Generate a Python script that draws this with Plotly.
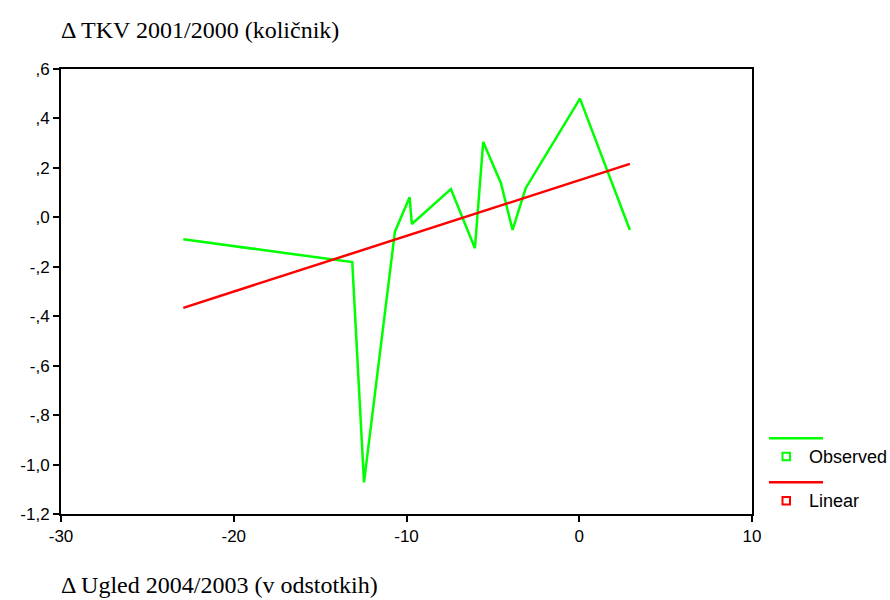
import plotly.graph_objects as go

# Observed data (Δ Ugled 2004/2003 vs Δ TKV 2001/2000)
obs_x = [-22.92, -13.14, -12.46, -10.67, -9.82, -9.69, -7.43, -6.04, -5.56, -4.53, -3.86, -3.10, 0.04, 2.93]
obs_y = [-0.089, -0.181, -1.072, -0.058, 0.081, -0.027, 0.114, -0.125, 0.305, 0.138, -0.051, 0.118, 0.480, -0.051]
# Linear fit values at the observed x
lin_y = [-0.366, -0.146, -0.130, -0.090, -0.071, -0.068, -0.017, 0.014, 0.025, 0.048, 0.063, 0.080, 0.151, 0.216]

x_ticks = [-30, -20, -10, 0, 10]
x_ticktext = ["-30", "-20", "-10", "0", "10"]
y_ticks = [0.6, 0.4, 0.2, 0.0, -0.2, -0.4, -0.6, -0.8, -1.0, -1.2]
y_ticktext = [",6", ",4", ",2", ",0", "-,2", "-,4", "-,6", "-,8", "-1,0", "-1,2"]

GREEN = "#00ff00"
RED = "#ff0000"

W, H = 890, 600
L, R, T, B = 61, 752, 69, 514

fig = go.Figure()
fig.add_trace(go.Scatter(x=obs_x, y=obs_y, mode="lines", line=dict(color=GREEN, width=2.5),
                         showlegend=False, hoverinfo="skip"))
fig.add_trace(go.Scatter(x=obs_x, y=lin_y, mode="lines", line=dict(color=RED, width=2.5),
                         showlegend=False, hoverinfo="skip"))

def px(x):
    return (x - L) / (R - L)

def py(y):
    return (B - y) / (B - T)

shapes = []
annotations = []
legend_items = [("Observed", GREEN, 438.3, 456.5), ("Linear", RED, 482.3, 500.7)]
for name, col, ly, my in legend_items:
    shapes.append(dict(type="line", xref="paper", yref="paper", x0=px(769), x1=px(823),
                       y0=py(ly), y1=py(ly), line=dict(color=col, width=2.5)))
    shapes.append(dict(type="rect", xref="paper", yref="paper", x0=px(782.5), x1=px(790),
                       y0=py(my + 3.7), y1=py(my - 3.7), line=dict(color=col, width=2),
                       fillcolor="white"))
    annotations.append(dict(text=name, xref="paper", yref="paper", x=px(807), y=py(my),
                            xanchor="left", yanchor="middle", showarrow=False,
                            font=dict(family="Liberation Sans, Arial", size=18, color="black")))

annotations.append(dict(text="Δ TKV 2001/2000 (količnik)", xref="paper", yref="paper",
                        x=px(59), y=py(30), xanchor="left", yanchor="middle", showarrow=False,
                        font=dict(family="Liberation Serif, Times New Roman", size=24, color="black")))
annotations.append(dict(text="Δ Ugled 2004/2003 (v odstotkih)", xref="paper", yref="paper",
                        x=px(59), y=py(585), xanchor="left", yanchor="middle", showarrow=False,
                        font=dict(family="Liberation Serif, Times New Roman", size=24, color="black")))

fig.update_layout(
    width=W, height=H,
    margin=dict(l=L, r=W - R, t=T, b=H - B, pad=0),
    paper_bgcolor="white", plot_bgcolor="white",
    shapes=shapes, annotations=annotations,
    showlegend=False,
    xaxis=dict(range=[-30, 10], tickvals=x_ticks, ticktext=x_ticktext, showgrid=False, zeroline=False,
               showline=True, linecolor="black", linewidth=2, mirror=True,
               ticks="outside", ticklen=6, tickwidth=2, tickcolor="black",
               tickfont=dict(family="Liberation Sans, Arial", size=17, color="black")),
    yaxis=dict(range=[-1.2, 0.6], tickvals=y_ticks, ticktext=y_ticktext, showgrid=False, zeroline=False,
               showline=True, linecolor="black", linewidth=2, mirror=True,
               ticks="outside", ticklen=6, tickwidth=2, tickcolor="black",
               tickfont=dict(family="Liberation Sans, Arial", size=17, color="black")),
)

fig.write_html("out.html")
